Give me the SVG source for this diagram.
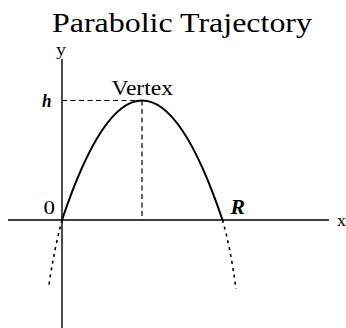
<svg xmlns="http://www.w3.org/2000/svg" width="346" height="328" viewBox="0 0 346 328">
<style>
text{font-family:"Liberation Serif","Times New Roman",serif;fill:#000}
.ax{stroke:#000;stroke-width:1.4;fill:none}
.curve{stroke:#000;stroke-width:2;fill:none}
.guide{stroke:#000;stroke-width:1.2;fill:none;stroke-dasharray:5 3.5}
.ext{stroke:#000;stroke-width:1.6;fill:none;stroke-dasharray:3 4}
</style>
<rect width="346" height="328" fill="#fff"/>
<text id="title" x="52" y="31.5" font-size="27" textLength="260" lengthAdjust="spacingAndGlyphs">Parabolic Trajectory</text>
<g id="connectors">
<line id="x-axis" class="ax" x1="8" y1="220" x2="329" y2="220"/>
<line id="y-axis" class="ax" x1="62" y1="59" x2="62" y2="328"/>
<line id="h-guide" class="guide" x1="62" y1="100.5" x2="142" y2="100.5"/>
<line id="vertex-guide" class="guide" x1="142" y1="100.5" x2="142" y2="220"/>
<path id="trajectory" class="curve" d="M62,220 Q142,-19 222.5,220"/>
<path id="ext-left" class="ext" d="M62,220 Q54,250 48.5,288"/>
<path id="ext-right" class="ext" d="M222.5,220 Q231,250 236,289"/>
</g>
<g id="label-y"><text x="56" y="55" font-size="16" textLength="10" lengthAdjust="spacingAndGlyphs">y</text></g>
<g id="label-x"><text x="337" y="226" font-size="16" textLength="9" lengthAdjust="spacingAndGlyphs">x</text></g>
<g id="label-vertex"><text x="111.5" y="94.5" font-size="21" textLength="61.5" lengthAdjust="spacingAndGlyphs">Vertex</text></g>
<g id="label-h"><text x="42" y="106.5" font-size="18" font-style="italic" font-weight="bold" textLength="9.5" lengthAdjust="spacingAndGlyphs">h</text></g>
<g id="label-0"><text x="43.5" y="213.5" font-size="19" textLength="11.5" lengthAdjust="spacingAndGlyphs">0</text></g>
<g id="label-R"><text x="230.5" y="213.5" font-size="20" font-style="italic" font-weight="bold" textLength="14.5" lengthAdjust="spacingAndGlyphs">R</text></g>
</svg>
